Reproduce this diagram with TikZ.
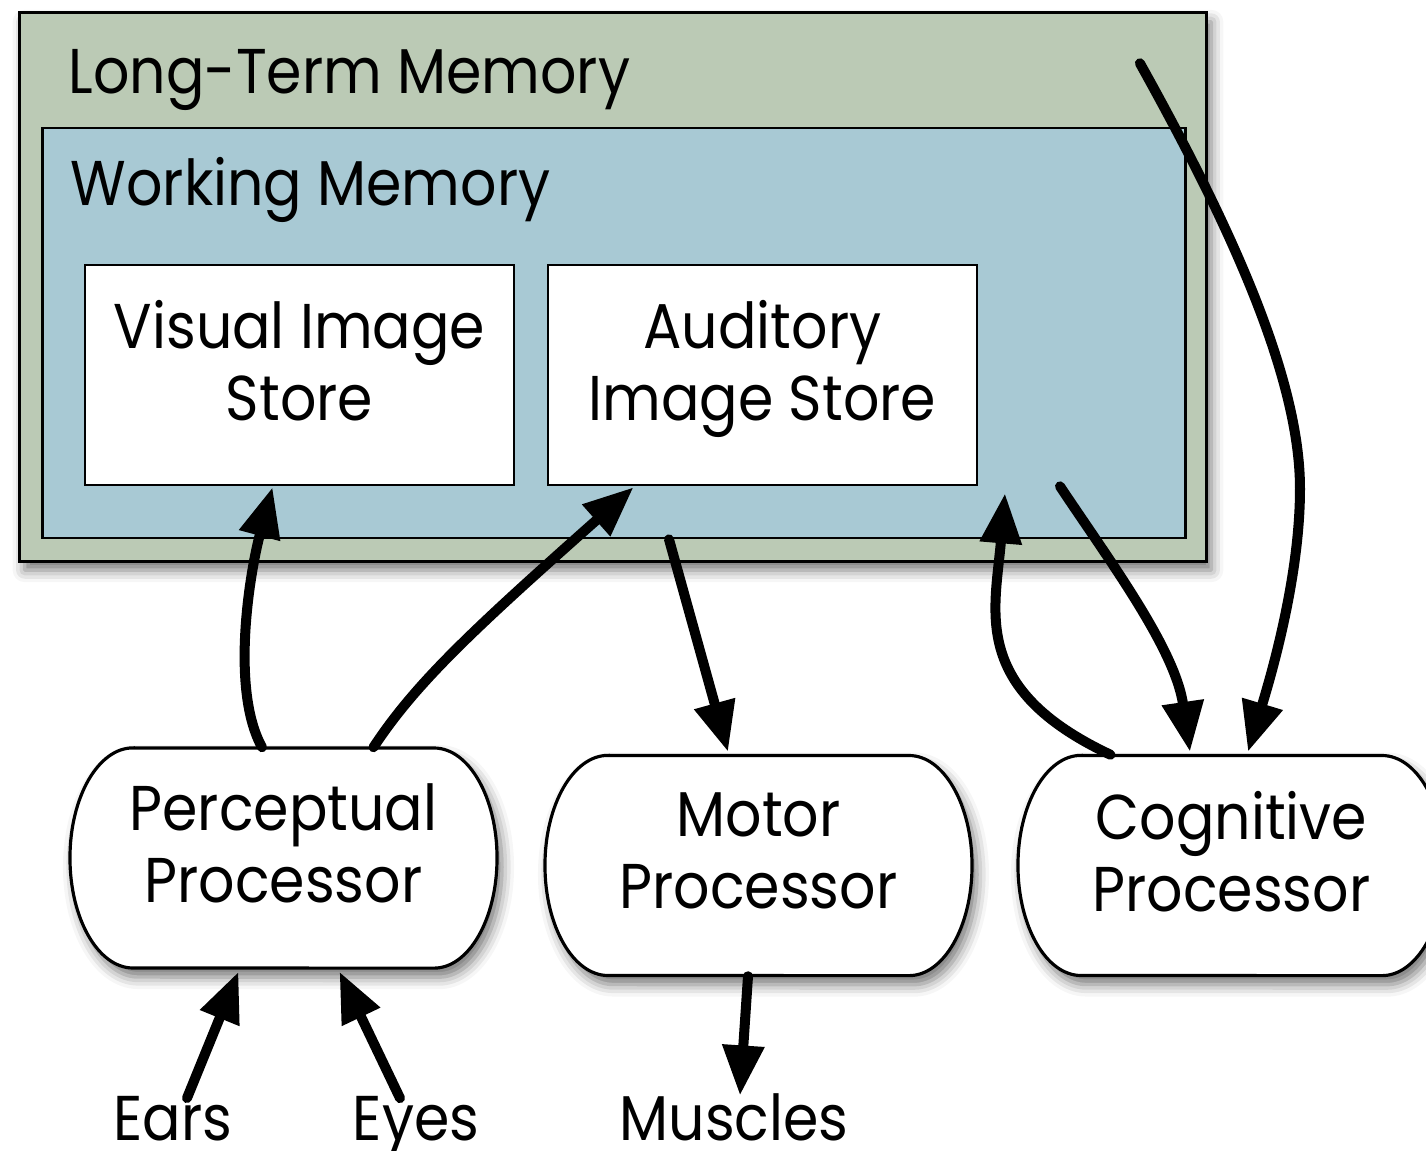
\documentclass[tikz,border=0pt]{standalone}
\usepackage{fontspec}
\setmainfont{Poppins}[FakeStretch=0.9]
\usetikzlibrary{arrows.meta,calc,shadows.blur,backgrounds}
\definecolor{ltmgreen}{HTML}{BBCAB5}
\definecolor{wmblue}{HTML}{A8C9D4}
\tikzset{
  txt/.style={font=\fontsize{18}{20.5}\selectfont},
  shad/.style={blur shadow={shadow xshift=0.05cm, shadow yshift=-0.09cm, shadow blur radius=0.12cm, shadow opacity=55}},
  ltmbox/.style={draw=black, line width=0.9pt, fill=ltmgreen, shad, minimum width=11.86cm, minimum height=5.48cm, inner sep=0pt},
  wmbox/.style={draw=black, line width=0.7pt, fill=wmblue, minimum width=11.42cm, minimum height=4.10cm, inner sep=0pt},
  storebox/.style={draw=black, line width=0.7pt, fill=white, txt, align=center, minimum width=4.29cm, minimum height=2.20cm, inner sep=0pt, text depth=0.29cm},
  procbox/.style={txt, align=center, minimum width=4.27cm, minimum height=2.20cm, inner sep=0pt, text depth=0.29cm},
  procline/.style={draw=black, line width=0.9pt, fill=white, shad},
  lbl/.style={txt, inner sep=0pt},
  arr/.style={line width=0.1cm, line cap=round, -{Triangle[length=0.5cm,width=0.4cm]}},
}
\newcommand\procshape[1]{($(#1.center)+(-150.5,-110)$) -- ($(#1.center)+(150.5,-110)$)
  arc[start angle=90,end angle=-90,x radius=0.63cm,y radius=1.10cm]
  -- ($(#1.center)+(-150.5,110)$)
  arc[start angle=270,end angle=90,x radius=0.63cm,y radius=1.10cm] -- cycle}
\begin{document}
\begin{tikzpicture}[x=0.01cm,y=-0.01cm]
\useasboundingbox (0,0) rectangle (1426,1151);
% memories
\node[ltmbox] (ltm) at (613,287) {};
\node[wmbox] (wm) at (614,333) {};
\node[lbl, anchor=base west] (ltmlabel) at (68,93) {Long-Term Memory};
\node[lbl, anchor=base west] (wmlabel) at (70,205) {Working Memory};
\node[storebox] (vis) at (299.5,375) {Visual Image\\Store};
\node[storebox] (aud) at (762.5,375) {Auditory\\Image Store};
% processors
\node[procbox] (perc) at (283.5,858) {Perceptual\\Processor};
\node[procbox] (motor) at (758.5,865.5) {Motor\\Processor};
\node[procbox] (cog) at (1231.5,865.5) {Cognitive\\Processor};
\begin{scope}[on background layer]
  \path[procline] \procshape{perc};
  \path[procline] \procshape{motor};
  \path[procline] \procshape{cog};
\end{scope}
% inputs / outputs
\node[lbl, anchor=base] (ears) at (173,1140) {Ears};
\node[lbl, anchor=base] (eyes) at (416,1140) {Eyes};
\node[lbl, anchor=base] (muscles) at (734,1140) {Muscles};
% connectors
\draw[arr] ($(perc.north)+(-21.5,0)$) .. controls +(-32,-58) and +(-22.5,84) .. ($(vis.south)+(-27,1)$);
\draw[arr] ($(perc.north)+(90,0)$) .. controls +(41.5,-63) and +(-163.5,145) .. ($(aud.south)+(-129,1)$);
\draw[arr] ($(wm.south)+(55,0)$) -- ($(motor.north)+(-30.5,-3)$);
\draw[arr] ($(motor.south)+(-10.5,0)$) -- ($(muscles.north)+(6,3)$);
\draw[arr] ($(ears.north)+(14,3)$) -- ($(perc.south)+(-45,3)$);
\draw[arr] ($(eyes.north)+(-16,3)$) -- ($(perc.south)+(56,3)$);
\draw[arr] ($(cog.north)+(-121,0)$) .. controls +(-140.5,-66) and +(-10,118) .. ($(wm.south)+(391,-46)$);
\draw[arr] ($(wm.south)+(446,-53)$) .. controls +(50,75) and +(-15,-103) .. ($(cog.north)+(-41.5,-3)$);
\draw[arr] ($(ltm.north east)+(-68,52)$) .. controls +(92,165) and +(0,-110) .. ($(cog.north)+(68.5,-266)$)
  .. controls +(0,90) and +(22,-73) .. ($(cog.north)+(16.5,-3)$);
\end{tikzpicture}
\end{document}
